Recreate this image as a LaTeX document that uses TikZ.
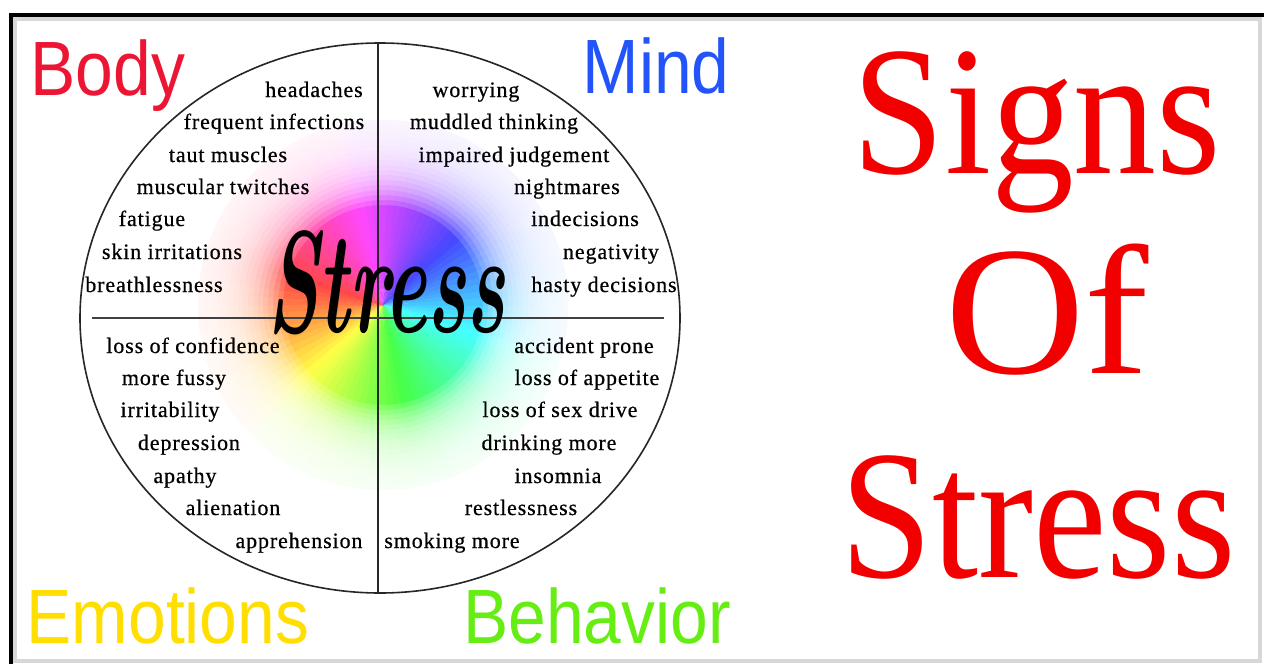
\documentclass[tikz,border=0pt]{standalone}
\usepackage{fontspec}
\newfontfamily\itemfont[LetterSpace=4,FakeBold=0.6]{Liberation Serif}
\newfontfamily\areafont[FakeStretch=0.88]{Liberation Sans}
\newfontfamily\signfont[FakeStretch=0.9]{Liberation Serif}
\newfontfamily\offont[FakeStretch=1.05]{Liberation Serif}
\newfontfamily\brushfont[FakeStretch=0.55]{Latin Modern Roman}
\definecolor{bodyred}{RGB}{236,22,52}
\definecolor{mindblue}{RGB}{34,84,250}
\definecolor{emoyellow}{RGB}{255,222,0}
\definecolor{behgreen}{RGB}{102,238,20}
\definecolor{signred}{RGB}{242,0,0}
\definecolor{framegray}{RGB}{215,215,215}
\begin{document}
\begin{tikzpicture}[x=1pt,y=-1pt,
    item/.style={font=\itemfont\fontsize{22}{26}\selectfont,anchor=base,inner sep=0pt},
    area/.style={font=\areafont\fontsize{77}{80}\selectfont,anchor=base,inner sep=0pt},
    title/.style={text=signred,anchor=base,inner sep=0pt}]
  \useasboundingbox[fill=white] (0,0) rectangle (1264,664);
  \draw[framegray,line width=4] (15,19) rectangle (1260,661);
  \draw[line width=4] (10.5,664) -- (10.5,14.7) -- (1264,14.7);
  \coordinate (blob) at (383,305);
  \foreach \a in {0,4,...,356}{
    \pgfmathsetmacro\hue{mod(555-\a,360)}
    \definecolor{wedge}{Hsb}{\hue,0.72,1}
    \fill[wedge] (blob) -- ++(\a:185) arc[start angle=\a,end angle=\a+4.6,radius=185] -- cycle;
  }
  \foreach \r in {100,105,...,185}
    \fill[white,opacity=0.17,even odd rule] (blob) circle (187) (blob) circle (\r);
  \coordinate (top) at (378,43);
  \coordinate (bottom) at (378,593);
  \coordinate (left) at (92,318);
  \coordinate (right) at (664,318);
  \draw[line width=1.6,black!85] (380,318) ellipse [x radius=300,y radius=275];
  \draw[line width=1.6,black!85] (top) -- (bottom);
  \draw[line width=1.6,black!75] (left) -- (right);
  \draw
    (314,97) node[item] (headaches){headaches}
    (274,129) node[item] (infections){frequent infections}
    (228,162) node[item] (taut){taut muscles}
    (223,194) node[item] (twitches){muscular twitches}
    (152,226) node[item] (fatigue){fatigue}
    (172,259) node[item] (skin){skin irritations}
    (154,292) node[item] (breath){breathlessness}
    (476,97) node[item] (worrying){worrying}
    (494,129) node[item] (muddled){muddled thinking}
    (514,162) node[item] (judgement){impaired judgement}
    (567,194) node[item] (nightmares){nightmares}
    (585,226) node[item] (indecisions){indecisions}
    (611,259) node[item] (negativity){negativity}
    (604,292) node[item] (hasty){hasty decisions}
    (193,353) node[item] (confidence){loss of confidence}
    (174,385) node[item] (fussy){more fussy}
    (170,417) node[item] (irritability){irritability}
    (189,450) node[item] (depression){depression}
    (185,483) node[item] (apathy){apathy}
    (233,515) node[item] (alienation){alienation}
    (299,548) node[item] (apprehension){apprehension}
    (584,353) node[item] (accident){accident prone}
    (587,385) node[item] (appetite){loss of appetite}
    (560,417) node[item] (sexdrive){loss of sex drive}
    (549,450) node[item] (drinking){drinking more}
    (558,483) node[item] (insomnia){insomnia}
    (521,515) node[item] (restless){restlessness}
    (452,548) node[item] (smoking){smoking more};
  \node[anchor=base,inner sep=0pt,font=\brushfont\bfseries\itshape\fontsize{145}{150}\selectfont] (stress) at (386,332) {Stress};
  \draw
    (108,95) node[area,text=bodyred] (body){Body}
    (656,93) node[area,text=mindblue] (mind){Mind}
    (168,643) node[area,text=emoyellow] (emotions){Emotions}
    (597,643) node[area,text=behgreen] (behavior){Behavior};
  \draw
    (1037,173) node[title,font=\signfont\fontsize{184}{190}\selectfont] (signs){Signs}
    (1047,373) node[title,font=\offont\fontsize{184}{190}\selectfont] (of){Of}
    (1038,577) node[title,font=\signfont\fontsize{184}{190}\selectfont] (stresstitle){Stress};
\end{tikzpicture}
\end{document}
